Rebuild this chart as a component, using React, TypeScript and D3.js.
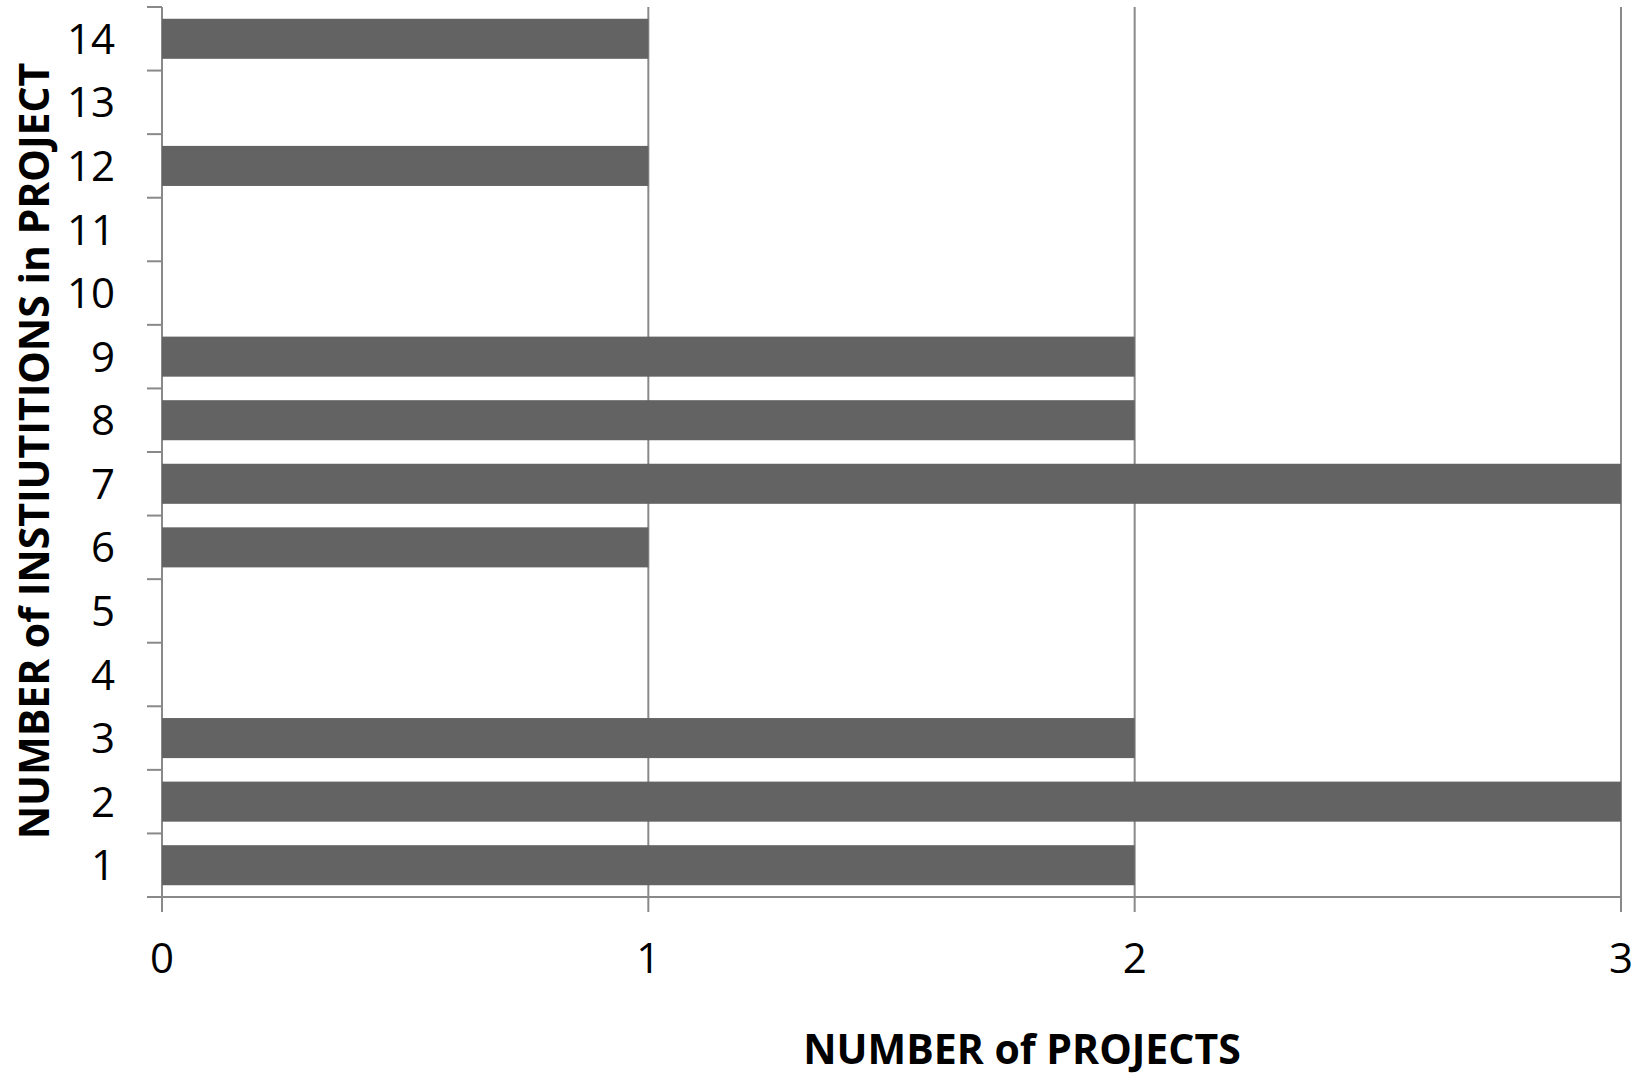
import React from "react";
import * as d3 from "d3";

const categories = ["1","2","3","4","5","6","7","8","9","10","11","12","13","14"];
const projects = [2,3,2,0,0,1,3,2,2,0,0,1,0,1];
const xTicks = [0,1,2,3];

const W = 1644, H = 1075;
const left = 162, right = 1621, top = 7, bottom = 897;
const FONT = "'Open Sans', 'Liberation Sans', sans-serif";

export default function App() {
  const x = d3.scaleLinear().domain([0, 3]).range([left, right]);
  const y = d3.scaleBand().domain(categories.slice().reverse()).range([top, bottom]).paddingInner(0.37).paddingOuter(0.185);
  const yEdges = d3.scaleLinear().domain([0, categories.length]).range([bottom, top]);
  const grid = "#898989";
  return (
    <svg width={W} height={H} style={{ position: "absolute", left: 0, top: 0 }}>
      <rect width={W} height={H} fill="#fff" />
      {xTicks.map(t => (
        <line key={"g"+t} x1={x(t)} x2={x(t)} y1={top} y2={bottom + 15} stroke={grid} strokeWidth={2} />
      ))}
      {d3.range(categories.length + 1).map(i => (
        <line key={"yt"+i} x1={left - 15} x2={left} y1={yEdges(i)} y2={yEdges(i)} stroke={grid} strokeWidth={2} />
      ))}
      <line x1={left} x2={right} y1={bottom} y2={bottom} stroke={grid} strokeWidth={2} />
      {categories.map((c, i) => projects[i] > 0 && (
        <rect key={"b"+c} x={x(0)} y={y(c)} width={x(projects[i]) - x(0)} height={y.bandwidth()} fill="#636363" />
      ))}
      {categories.map(c => (
        <text key={"yl"+c} x={115} y={(y(c) as number) + y.bandwidth() / 2} dy="0.36em" textAnchor="end" fontFamily={FONT} fontSize={42} fill="#000">{c}</text>
      ))}
      {xTicks.map(t => (
        <text key={"xl"+t} x={x(t)} y={973} textAnchor="middle" fontFamily={FONT} fontSize={42} fill="#000">{t}</text>
      ))}
      <text x={1022} y={1064} textAnchor="middle" fontFamily={FONT} fontWeight="bold" fontSize={41} fill="#000">NUMBER of PROJECTS</text>
      <text transform="translate(49,451) rotate(-90)" textAnchor="middle" fontFamily={FONT} fontWeight="bold" fontSize={41} fill="#000">NUMBER of INSTIUTITIONS in PROJECT</text>
    </svg>
  );
}
